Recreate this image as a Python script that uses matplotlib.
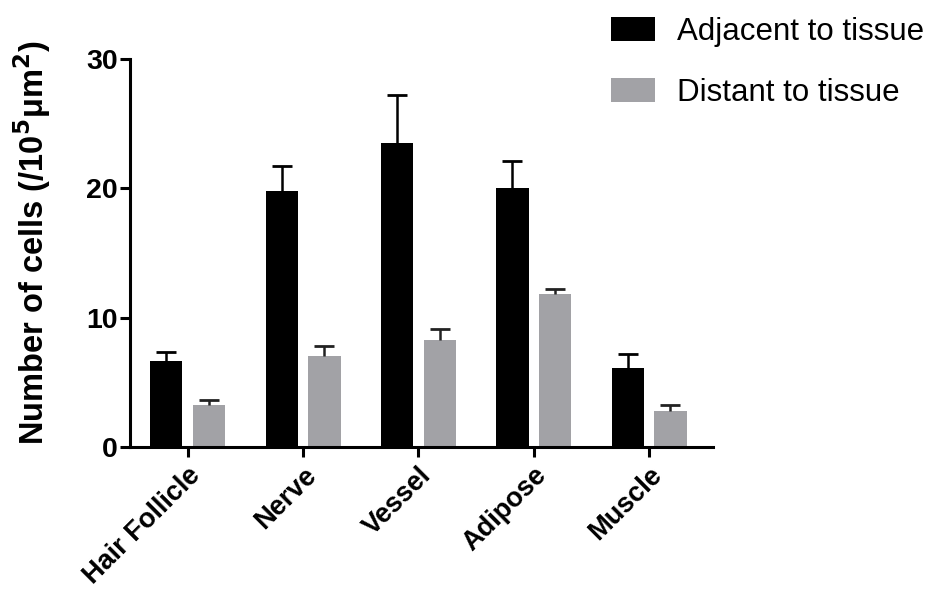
import matplotlib.pyplot as plt
import numpy as np

plt.rcParams['font.family'] = ['Liberation Sans', 'DejaVu Sans']

# data
tissues = ['Hair Follicle', 'Nerve', 'Vessel', 'Adipose', 'Muscle']
adjacent = [6.65, 19.8, 23.5, 20.05, 6.1]
adjacent_err = [0.7, 1.95, 3.7, 2.05, 1.1]
distant = [3.25, 7.05, 8.3, 11.85, 2.75]
distant_err = [0.4, 0.75, 0.85, 0.4, 0.5]

fig = plt.figure(figsize=(9.32, 5.95), dpi=100)
ax = fig.add_axes([0.1395, 0.2487, 0.625, 0.652])

x = np.arange(len(tissues))
w = 0.28
off = 0.185

b1 = ax.bar(x - off, adjacent, w, color='black', label='Adjacent to tissue')
b2 = ax.bar(x + off, distant, w, color='#a2a2a6', label='Distant to tissue')

# upper error bars only
for pos, vals, errs, col in [(x - off, adjacent, adjacent_err, 'black'),
                             (x + off, distant, distant_err, '#222222')]:
    eb = ax.errorbar(pos, vals, yerr=[np.zeros(len(x)), errs], fmt='none',
                     ecolor=col, elinewidth=1.8, capsize=7, capthick=2)
    eb[1][0].set_visible(False)

ax.set_ylim(0, 30)
ax.set_xlim(-0.5, 4.55)
ax.set_yticks([0, 10, 20, 30])
ax.set_xticks(x)
ax.set_xticklabels(tissues, rotation=45, ha='right', rotation_mode='anchor',
                   fontsize=19.5, fontweight='bold')
for lab in ax.get_yticklabels():
    lab.set_fontsize(20.5)
    lab.set_fontweight('bold')

ax.spines['top'].set_visible(False)
ax.spines['right'].set_visible(False)
ax.spines['left'].set_linewidth(2.2)
ax.spines['bottom'].set_linewidth(2.2)
ax.tick_params(axis='both', width=2.2, length=7, direction='out')
ax.tick_params(axis='y', pad=2)
ax.tick_params(axis='x', pad=4)

ax.set_ylabel('Number of cells (/10$^{\\mathbf{5}}$\u03bcm$^{\\mathbf{2}}$)',
              fontsize=23.5, fontweight='bold')
ax.yaxis.set_label_coords(-0.132, 0.526)

fig.legend(handles=[b1, b2], loc='upper left', bbox_to_anchor=(611 / 932, 1 - 17 / 595),
           frameon=False, fontsize=22.5, handlelength=1.4, handleheight=0.8,
           handletextpad=0.7, labelspacing=1.0, borderpad=0, borderaxespad=0)

fig.savefig('out.png', dpi=100)
